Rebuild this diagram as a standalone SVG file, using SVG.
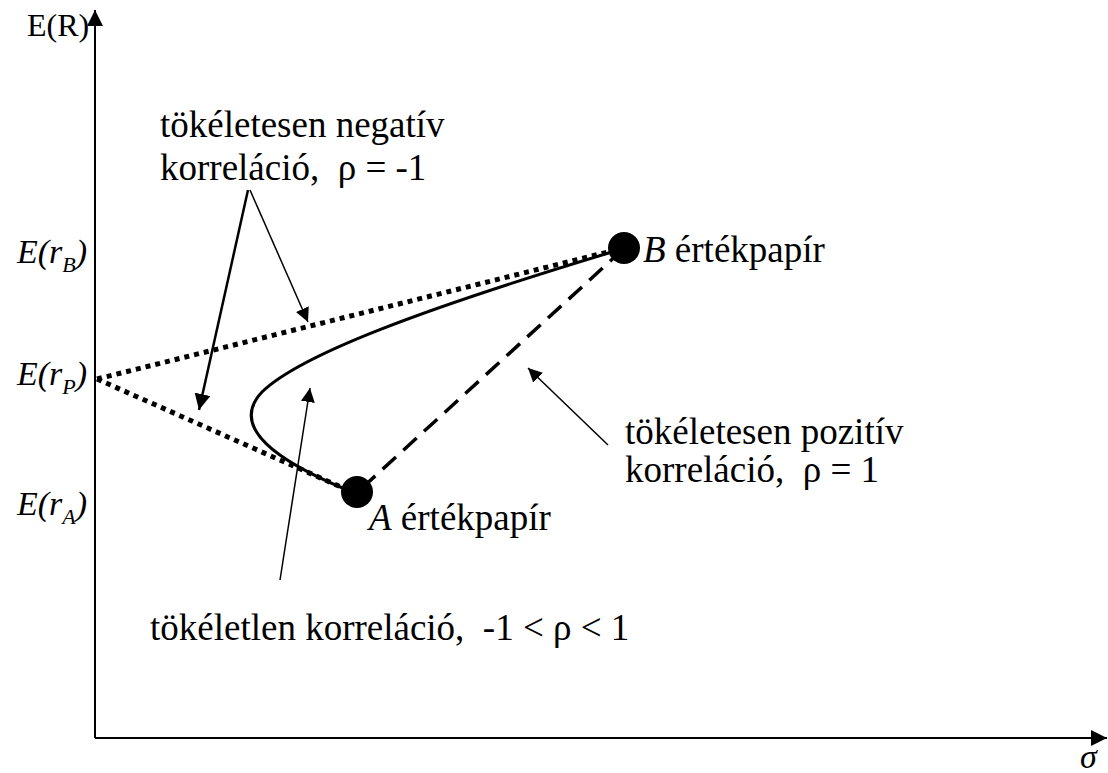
<svg xmlns="http://www.w3.org/2000/svg" width="1108" height="773" viewBox="0 0 1108 773">
<style>
text{font-family:"Liberation Serif","Times New Roman","DejaVu Serif",serif;fill:#000}
.lbl{font-size:37px}
.ax{font-size:34px;font-style:italic}
.axis{stroke:#000;stroke-width:2;fill:none}
.dot{stroke:#000;stroke-width:5;stroke-dasharray:5 5;fill:none}
.dash{stroke:#000;stroke-width:3.5;stroke-dasharray:18 10;fill:none}
.curve{stroke:#000;stroke-width:3;fill:none}
.thick{stroke:#000;stroke-width:2.5;fill:none}
.thin{stroke:#000;stroke-width:1.5;fill:none}
</style>
<defs>
<marker id="ah" viewBox="0 0 10 10" refX="10" refY="5" markerWidth="14" markerHeight="14" markerUnits="userSpaceOnUse" orient="auto"><path d="M0,0 L10,5 L0,10 z" fill="#000"/></marker>
<marker id="ahb" viewBox="0 0 10 10" refX="10" refY="5" markerWidth="16" markerHeight="16" markerUnits="userSpaceOnUse" orient="auto"><path d="M0,0 L10,5 L0,10 z" fill="#000"/></marker>
</defs>
<rect width="1108" height="773" fill="#fff"/>
<g id="axes">
<line class="axis" x1="95" y1="738" x2="95" y2="10" marker-end="url(#ahb)"/>
<line class="axis" x1="95" y1="738" x2="1107" y2="738" marker-end="url(#ahb)"/>
<text x="27" y="36" style="font-size:32px">E(R)</text>
<text class="ax" x="1080" y="768">σ</text>
<text class="ax" x="17" y="263">E(r<tspan dy="9" style="font-size:22px">B</tspan><tspan dy="-9">)</tspan></text>
<text class="ax" x="17" y="385">E(r<tspan dy="9" style="font-size:22px">P</tspan><tspan dy="-9">)</tspan></text>
<text class="ax" x="17" y="515">E(r<tspan dy="9" style="font-size:22px">A</tspan><tspan dy="-9">)</tspan></text>
</g>
<g id="connectors">
<line class="dot" x1="97" y1="379" x2="620" y2="249"/>
<line class="dot" x1="97" y1="379" x2="350" y2="491"/>
<line class="dash" x1="362" y1="488" x2="618" y2="254"/>
<path class="curve" d="M345,489 C280,462 228,428 262,392 C300,355 420,310 612,252"/>
<line class="thick" x1="248" y1="190" x2="199" y2="410" marker-end="url(#ahb)"/>
<line class="thin" x1="250" y1="190" x2="308" y2="322" marker-end="url(#ah)"/>
<line class="thin" x1="280" y1="580" x2="310" y2="388" marker-end="url(#ah)"/>
<line class="thin" x1="608" y1="445" x2="528" y2="368" marker-end="url(#ah)"/>
</g>
<g id="nodeA">
<circle cx="357" cy="492" r="16" fill="#000"/>
<text class="lbl" x="369" y="530"><tspan font-style="italic">A</tspan> értékpapír</text>
</g>
<g id="nodeB">
<circle cx="624" cy="248" r="16" fill="#000"/>
<text class="lbl" x="643" y="262"><tspan font-style="italic">B</tspan> értékpapír</text>
</g>
<g id="labels">
<text class="lbl" x="160" y="137">tökéletesen negatív</text>
<text class="lbl" x="160" y="180" xml:space="preserve">korreláció,  ρ = -1</text>
<text class="lbl" x="625" y="444">tökéletesen pozitív</text>
<text class="lbl" x="625" y="482" xml:space="preserve">korreláció,  ρ = 1</text>
<text class="lbl" x="150" y="640" xml:space="preserve">tökéletlen korreláció,  -1 &lt; ρ &lt; 1</text>
</g>
</svg>
